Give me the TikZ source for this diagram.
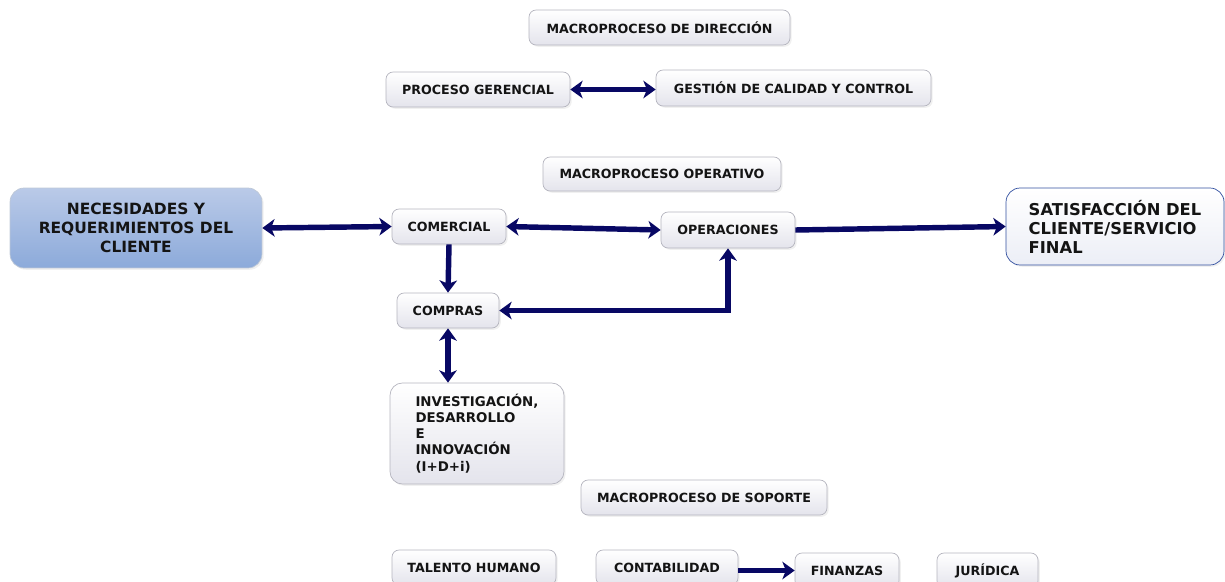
\documentclass[tikz,border=0pt]{standalone}
\usepackage{fontspec}
\setmainfont{DejaVu Sans}
\usepackage{tikz}
\usetikzlibrary{arrows.meta}
\usetikzlibrary{shadows}

\definecolor{flecha}{RGB}{8,8,100}
\definecolor{borde}{RGB}{180,180,190}
\definecolor{texto}{RGB}{20,20,20}

\tikzset{
  caja/.style={draw=borde, rounded corners=4pt, top color=white, bottom color={rgb,255:red,228;green,228;blue,236},
    drop shadow={opacity=0.12, shadow xshift=1pt, shadow yshift=-1pt},
    text=texto, font=\fontsize{7.2}{8.6}\selectfont\bfseries, minimum height=0.7cm, inner sep=2pt},
  punta/.tip={Stealth[length=7pt,width=10pt,inset=2pt]},
  flujo/.style={draw=flecha, line width=3.1pt, -punta},
  doble/.style={flujo, punta-punta}
}

\begin{document}
\begin{tikzpicture}[x=0.02cm,y=-0.02cm]
\useasboundingbox (0,0) rectangle (1225,582);

\node[caja, minimum width=5.22cm] (dir) at (659.5,27.5) {MACROPROCESO DE DIRECCIÓN};
\node[caja, minimum width=3.68cm] (gerencial) at (478,89.5) {PROCESO GERENCIAL};
\node[caja, minimum width=5.5cm, minimum height=0.72cm] (calidad) at (793.5,88) {GESTIÓN DE CALIDAD Y CONTROL};

\node[caja, minimum width=4.76cm, minimum height=0.68cm] (operativo) at (662,174) {MACROPROCESO OPERATIVO};

\node[caja, minimum width=5.04cm, minimum height=1.6cm, rounded corners=8pt, draw={rgb,255:red,190;green,200;blue,215},
  top color={rgb,255:red,186;green,202;blue,232}, bottom color={rgb,255:red,140;green,170;blue,218},
  align=center, font=\fontsize{8.8}{10.8}\selectfont\bfseries] (necesidades) at (136,228)
  {NECESIDADES Y\\REQUERIMIENTOS DEL\\CLIENTE};
\node[caja, minimum width=2.28cm] (comercial) at (449,226.5) {COMERCIAL};
\node[caja, minimum width=2.68cm, minimum height=0.72cm] (operaciones) at (728,230) {OPERACIONES};
\node[caja, minimum width=4.36cm, minimum height=1.54cm, rounded corners=8pt, draw={rgb,255:red,50;green,80;blue,160},
  top color=white, bottom color={rgb,255:red,236;green,238;blue,246},
  align=left, font=\fontsize{9.3}{10.8}\selectfont\bfseries] (satisfaccion) at (1115,226.5)
  {SATISFACCIÓN DEL\\CLIENTE/SERVICIO\\FINAL};
\node[caja, minimum width=2.04cm] (compras) at (448,310.5) {COMPRAS};
\node[caja, minimum width=3.48cm, minimum height=2.02cm, rounded corners=7pt, align=left,
  font=\fontsize{7.6}{9.2}\selectfont\bfseries] (idi) at (477,433.5)
  {INVESTIGACIÓN,\\DESARROLLO\\E\\INNOVACIÓN\\(I+D+i)};

\node[caja, minimum width=4.92cm] (soporte) at (704,497.5) {MACROPROCESO DE SOPORTE};
\node[caja, minimum width=3.28cm] (talento) at (474,567.5) {TALENTO HUMANO};
\node[caja, minimum width=2.84cm] (contabilidad) at (667,567.5) {CONTABILIDAD};
\node[caja, minimum width=2.08cm] (finanzas) at (847,570.5) {FINANZAS};
\node[caja, minimum width=2.02cm] (juridica) at (987.5,570.5) {JURÍDICA};

% flechas
\draw[doble] (gerencial.east) -- (gerencial.east -| calidad.west);
\draw[doble] (necesidades.east) -- (comercial.west);
\draw[doble] (comercial.east) -- (operaciones.west);
\draw[flujo] (operaciones.east) -- (satisfaccion.west);
\draw[flujo] (comercial.south) -- (compras.north);
\draw[doble] (compras.east) -| (operaciones.south);
\draw[doble] (compras.south) -- (compras.south |- idi.north);
\draw[flujo] (contabilidad.east |- finanzas.west) -- (finanzas.west);

\end{tikzpicture}
\end{document}
